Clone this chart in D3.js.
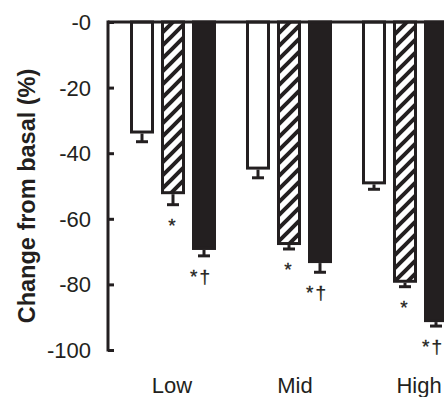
<!DOCTYPE html>
<html>
<head>
<meta charset="utf-8">
<script src="https://cdn.jsdelivr.net/npm/d3@7"></script>
<style>
    body { margin: 0; background: #fff; }
    svg text { font-family: "Liberation Sans", Arial, Helvetica, sans-serif; fill: #231f20; }
</style>
</head>
<body>
<script>
    var groups = ["Low", "Mid", "High"];
    var series = ["open", "hatched", "filled"];
    var values = {
        open:    [-34, -45, -49.5],
        hatched: [-52.5, -68, -79.5],
        filled:  [-69.5, -73.5, -91.5]
    };
    var errors = {
        open:    [2.5, 2.5, 1.5],
        hatched: [3.2, 1.2, 1.2],
        filled:  [1.8, 2.8, 1.2]
    };
    var marks = {
        open:    ["", "", ""],
        hatched: ["*", "*", "*"],
        filled:  ["*\u2020", "*\u2020", "*\u2020"]
    };
    var yTicks = [0, -20, -40, -60, -80, -100];

    var W = 444, H = 397, ink = "#231f20";

    var svg = d3.select("body").append("svg")
        .attr("width", W)
        .attr("height", H);

    var defs = svg.append("defs");
    var pat = defs.append("pattern")
        .attr("id", "hatch")
        .attr("patternUnits", "userSpaceOnUse")
        .attr("width", 13)
        .attr("height", 13);
    pat.append("rect").attr("width", 13).attr("height", 13).attr("fill", "#fff");
    pat.append("path")
        .attr("d", "M-2,2 l4,-4 M0,13 l13,-13 M11,15 l4,-4")
        .attr("stroke", ink)
        .attr("stroke-width", 4);

    var y = d3.scaleLinear().domain([0, -100]).range([22, 350]);

    var x0 = d3.scaleBand().domain(groups)
        .range([130, 130 + 3 * 116 - 30])
        .paddingInner(30 / 116)
        .paddingOuter(0);
    var x1 = d3.scaleBand().domain(series)
        .range([0, x0.bandwidth()])
        .paddingInner(7 / 31);

    // y axis
    var axis = svg.append("g")
        .attr("transform", "translate(108,0)")
        .call(d3.axisRight(y).tickValues(yTicks).tickSize(6).tickFormat(""));
    axis.select(".domain").remove();
    axis.selectAll("line").attr("stroke", ink).attr("stroke-width", 3);
    svg.append("line")
        .attr("x1", 108).attr("x2", 108)
        .attr("y1", y(0) - 1.5).attr("y2", y(-100) + 1.5)
        .attr("stroke", ink).attr("stroke-width", 3);

    svg.selectAll(".ytl").data(yTicks).enter().append("text")
        .attr("class", "ytl")
        .attr("x", 91)
        .attr("y", function (d) { return y(d); })
        .attr("dy", "0.36em")
        .attr("text-anchor", "end")
        .style("font-size", "22px")
        .text(function (d) { return d === 0 ? "-0" : d; });

    svg.append("text")
        .attr("transform", "translate(35,196) rotate(-90)")
        .attr("text-anchor", "middle")
        .style("font-size", "23.5px")
        .style("font-weight", "bold")
        .text("Change from basal (%)");

    // bars
    var sw = 3;
    var marksG = svg.append("g");
    series.forEach(function (s) {
        var g = svg.append("g");
        groups.forEach(function (grp, i) {
            var bx = x0(grp) + x1(s);
            var v = values[s][i], e = errors[s][i];
            var cx = bx + x1.bandwidth() / 2;
            // error bar (downward only)
            g.append("line")
                .attr("x1", cx).attr("x2", cx)
                .attr("y1", y(v)).attr("y2", y(v - e))
                .attr("stroke", ink).attr("stroke-width", sw);
            g.append("line")
                .attr("x1", cx - 6).attr("x2", cx + 6)
                .attr("y1", y(v - e)).attr("y2", y(v - e))
                .attr("stroke", ink).attr("stroke-width", sw);
            g.append("rect")
                .attr("x", bx + sw / 2)
                .attr("y", y(0))
                .attr("width", x1.bandwidth() - sw)
                .attr("height", y(v) - y(0) - sw / 2)
                .attr("fill", s === "open" ? "#fff" : s === "hatched" ? "url(#hatch)" : ink)
                .attr("stroke", ink)
                .attr("stroke-width", sw);
            if (marks[s][i]) {
                marksG.append("text")
                    .attr("x", cx - (s === "filled" ? 3 : 1))
                    .attr("y", y(v - e) + 27)
                    .attr("text-anchor", "middle")
                    .style("font-size", "19px")
                    .style("letter-spacing", s === "filled" ? "2px" : "0px")
                    .style("stroke", ink)
                    .style("stroke-width", "0.3px")
                    .text(marks[s][i]);
            }
        });
    });
    marksG.raise();

    // zero line
    svg.append("line")
        .attr("x1", 108).attr("x2", W)
        .attr("y1", y(0)).attr("y2", y(0))
        .attr("stroke", ink).attr("stroke-width", 3);

    // category labels
    var labelShift = [-1, 6, 14];
    svg.selectAll(".xl").data(groups).enter().append("text")
        .attr("class", "xl")
        .attr("x", function (d, i) { return x0(d) + x0.bandwidth() / 2 + labelShift[i]; })
        .attr("y", 393)
        .attr("text-anchor", "middle")
        .style("font-size", "22px")
        .text(function (d) { return d; });
</script>
</body>
</html>
